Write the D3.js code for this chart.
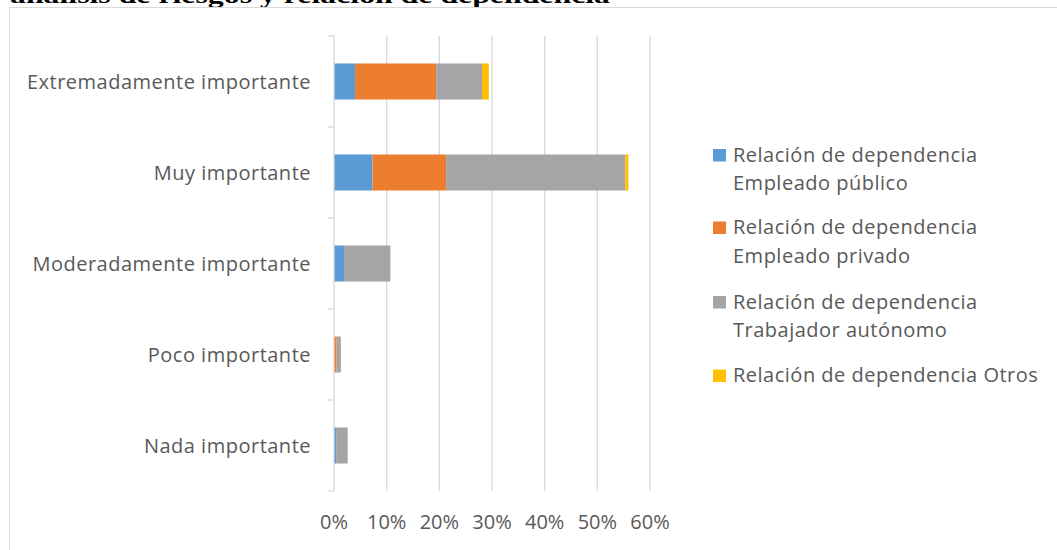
<!DOCTYPE html>
<html>
<head>
<meta charset="utf-8">
<script src="https://cdn.jsdelivr.net/npm/d3@7"></script>
<style>
  html, body { margin: 0; padding: 0; background: #ffffff; }
  svg { display: block; }
</style>
</head>
<body>
<svg id="chart" width="1057" height="550"></svg>
<script>
const titleText = "análisis de riesgos y relación de dependencia";
const categories = ["Extremadamente importante", "Muy importante", "Moderadamente importante", "Poco importante", "Nada importante"];
const seriesNames = [
  ["Relación de dependencia", "Empleado público"],
  ["Relación de dependencia", "Empleado privado"],
  ["Relación de dependencia", "Trabajador autónomo"],
  ["Relación de dependencia Otros"]
];
const empleadoPublico    = [0.040, 0.073, 0.019, 0.000, 0.004];
const empleadoPrivado    = [0.154, 0.140, 0.000, 0.005, 0.000];
const trabajadorAutonomo = [0.087, 0.340, 0.088, 0.008, 0.022];
const otros              = [0.013, 0.006, 0.000, 0.000, 0.000];
const tickValues = [0, 0.1, 0.2, 0.3, 0.4, 0.5, 0.6];
const colors = ["#5b9bd5", "#ed7d31", "#a5a5a5", "#ffc000"];

const allSeries = [empleadoPublico, empleadoPrivado, trabajadorAutonomo, otros];
const keys = ["s0", "s1", "s2", "s3"];
const rows = categories.map((c, i) => {
  const r = { cat: c };
  keys.forEach((k, j) => r[k] = allSeries[j][i]);
  return r;
});
const stacked = d3.stack().keys(keys)(rows);

const svg = d3.select("#chart");
const font = "'Open Sans', sans-serif";
const textColor = "#595959";
const fs = 20;
const ls = "0.5px";

// title (partially cut at top, as in the source)
svg.append("text")
  .attr("x", 10).attr("y", 3)
  .attr("font-family", "'Liberation Serif', 'Times New Roman', serif")
  .attr("font-weight", "bold")
  .attr("font-size", 23)
  .attr("textLength", 600)
  .attr("lengthAdjust", "spacingAndGlyphs")
  .attr("fill", "#000")
  .text(titleText);

// chart border
svg.append("rect")
  .attr("x", 9.5).attr("y", 7.5)
  .attr("width", 1100).attr("height", 600)
  .attr("fill", "none")
  .attr("stroke", "#d9d9d9")
  .attr("stroke-width", 1);

const x = d3.scaleLinear().domain([0, 0.6]).range([334, 650]);
const y = d3.scaleBand().domain(categories).range([36, 491]).paddingInner(0.604).paddingOuter(0.302);

// gridlines
svg.append("g").selectAll("line")
  .data(tickValues.filter(t => t > 0))
  .join("line")
  .attr("x1", d => x(d)).attr("x2", d => x(d))
  .attr("y1", 36).attr("y2", 491)
  .attr("stroke", "#d9d9d9").attr("stroke-width", 1.3);

// bars
svg.append("g").selectAll("g")
  .data(stacked)
  .join("g")
  .attr("fill", (d, i) => colors[i])
  .selectAll("rect")
  .data(d => d)
  .join("rect")
  .attr("x", d => x(d[0]))
  .attr("width", d => Math.max(0, x(d[1]) - x(d[0])))
  .attr("y", d => y(d.data.cat))
  .attr("height", y.bandwidth());

// y axis line and ticks
const yAxisG = svg.append("g");
yAxisG.append("line")
  .attr("x1", x(0)).attr("x2", x(0))
  .attr("y1", 36).attr("y2", 491)
  .attr("stroke", "#d9d9d9").attr("stroke-width", 1.3);
const step = y.step();
const boundaries = d3.range(categories.length + 1).map(i => 36 + i * step);
yAxisG.selectAll("line.tk")
  .data(boundaries)
  .join("line")
  .attr("class", "tk")
  .attr("x1", x(0) - 6).attr("x2", x(0))
  .attr("y1", d => d).attr("y2", d => d)
  .attr("stroke", "#d9d9d9").attr("stroke-width", 1.3);

// category labels
svg.append("g").selectAll("text")
  .data(categories)
  .join("text")
  .attr("x", 311)
  .attr("y", d => y(d) + y.bandwidth() / 2 + 7)
  .attr("text-anchor", "end")
  .attr("font-family", font)
  .attr("font-size", fs)
  .attr("letter-spacing", ls)
  .attr("fill", textColor)
  .text(d => d);

// x tick labels
svg.append("g").selectAll("text")
  .data(tickValues)
  .join("text")
  .attr("x", d => x(d))
  .attr("y", 529)
  .attr("text-anchor", "middle")
  .attr("font-family", font)
  .attr("font-size", fs)
  .attr("fill", textColor)
  .text(d => d3.format(".0%")(d));

// legend
const legendBaselines = [161.5, 234, 308.5, 382];
const lg = svg.append("g");
seriesNames.forEach((lines, i) => {
  const by = legendBaselines[i];
  lg.append("rect")
    .attr("x", 713).attr("y", by - 12.5)
    .attr("width", 13).attr("height", 12.5)
    .attr("fill", colors[i]);
  lines.forEach((ln, j) => {
    lg.append("text")
      .attr("x", 733).attr("y", by + j * 28.5)
      .attr("font-family", font)
      .attr("font-size", fs)
      .attr("letter-spacing", ls)
      .attr("fill", textColor)
      .text(ln);
  });
});
</script>
</body>
</html>
